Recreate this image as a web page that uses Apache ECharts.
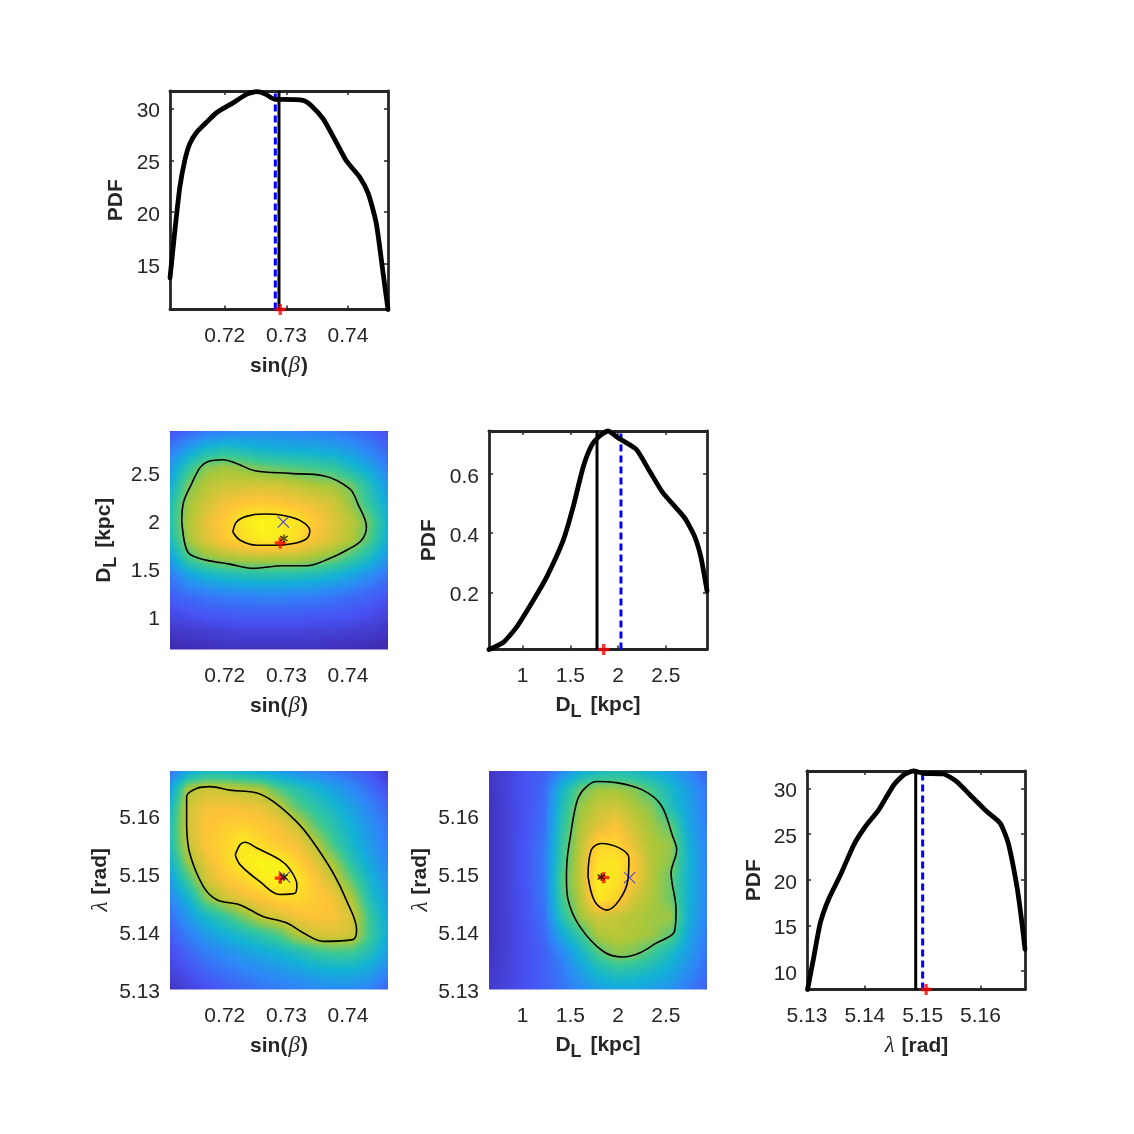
<!DOCTYPE html>
<html><head><meta charset="utf-8">
<style>html,body{margin:0;padding:0;background:#fff}#c{width:1134px;height:1134px}</style>
<script src="https://cdn.jsdelivr.net/npm/echarts@6/dist/echarts.min.js"></script>
</head><body><div id="c"></div>
<script>
// Axis ranges
const sinRange=[0.7111,0.7465], dlRange=[0.647,2.93], lamRange=[5.13,5.1677];
const pdfSinRange=[10.6,31.7], pdfDlRange=[0.0076,0.745], pdfLamRange=[8,31.9];
// Tick labels
const sinTicks=[0.72,0.73,0.74], dlTicks=[1,1.5,2,2.5], lamTicks=[5.13,5.14,5.15,5.16];
const pdfSinTicks=[15,20,25,30], pdfDlTicks=[0.2,0.4,0.6], pdfLamTicks=[10,15,20,25,30];
// Density grid nodes
const sinNodes=[.7111,.71405,.717,.71995,.7229,.72585,.7288,.73175,.7347,.73765,.7406,.74355,.7465];
const dlNodes=[.647,.837,1.028,1.218,1.408,1.598,1.789,1.979,2.169,2.359,2.55,2.74,2.93];
const lamNodes=[5.13,5.1331,5.1363,5.1394,5.1426,5.1457,5.1489,5.152,5.1551,5.1583,5.1614,5.1646,5.1677];
// Density, rows from top to bottom of each panel, columns left to right (0..1 of the colour scale)
const densSinDl=[
[.14,.19,.24,.27,.28,.29,.29,.28,.27,.25,.22,.18,.13],
[.24,.36,.46,.50,.47,.44,.42,.41,.40,.38,.33,.27,.19],
[.34,.54,.67,.70,.68,.64,.62,.60,.58,.55,.47,.38,.26],
[.42,.65,.74,.77,.78,.79,.78,.75,.72,.70,.64,.50,.34],
[.50,.70,.78,.84,.87,.88,.87,.85,.82,.78,.68,.55,.40],
[.52,.72,.82,.88,.95,.99,.97,.94,.87,.80,.74,.63,.44],
[.48,.70,.80,.87,.92,.96,.96,.92,.84,.79,.72,.60,.42],
[.36,.58,.67,.71,.73,.74,.73,.73,.70,.65,.57,.47,.32],
[.24,.36,.43,.47,.49,.50,.50,.49,.47,.43,.37,.30,.22],
[.18,.22,.25,.27,.28,.29,.29,.28,.27,.25,.22,.19,.15],
[.12,.14,.16,.17,.18,.18,.18,.18,.17,.16,.15,.13,.10],
[.06,.07,.08,.09,.10,.10,.10,.10,.09,.09,.08,.07,.05],
[.01,.02,.03,.04,.04,.04,.04,.04,.04,.03,.03,.02,.01]];
const densSinLam=[
[.22,.38,.46,.46,.42,.38,.34,.30,.27,.24,.19,.14,.06],
[.36,.72,.77,.76,.74,.72,.60,.52,.45,.37,.30,.22,.13],
[.46,.78,.84,.85,.84,.82,.76,.62,.54,.46,.37,.28,.19],
[.50,.78,.86,.88,.89,.87,.84,.77,.62,.52,.42,.32,.23],
[.50,.76,.86,.90,.96,.91,.87,.84,.74,.58,.46,.35,.25],
[.44,.70,.82,.90,.96,.99,.97,.90,.81,.70,.52,.39,.28],
[.36,.58,.78,.86,.90,.96,.99,.95,.86,.77,.62,.45,.32],
[.28,.44,.66,.77,.82,.86,.90,.91,.88,.84,.72,.50,.36],
[.22,.34,.47,.56,.66,.76,.80,.84,.86,.85,.79,.56,.40],
[.17,.26,.35,.42,.48,.54,.60,.72,.78,.80,.77,.57,.42],
[.13,.19,.26,.31,.36,.40,.44,.49,.55,.58,.57,.50,.36],
[.09,.14,.19,.23,.27,.30,.33,.36,.40,.42,.42,.38,.28],
[.05,.09,.13,.17,.20,.23,.25,.27,.29,.30,.30,.27,.19]];
const densDlLam=[
[.05,.09,.14,.18,.28,.40,.46,.48,.46,.42,.36,.28,.18],
[.05,.10,.14,.20,.45,.63,.70,.70,.67,.58,.46,.35,.24],
[.04,.09,.14,.21,.50,.69,.76,.78,.72,.67,.50,.37,.25],
[.04,.09,.14,.22,.53,.72,.80,.85,.77,.70,.62,.39,.26],
[.04,.09,.15,.24,.56,.74,.90,.90,.81,.72,.69,.42,.27],
[.04,.09,.15,.25,.57,.76,.93,.95,.86,.73,.67,.44,.28],
[.04,.09,.15,.25,.60,.76,.97,.94,.85,.73,.63,.43,.28],
[.04,.09,.14,.24,.58,.73,.95,.90,.78,.72,.64,.43,.28],
[.04,.09,.14,.22,.52,.70,.78,.76,.73,.70,.70,.42,.27],
[.04,.09,.13,.20,.40,.56,.72,.74,.72,.70,.62,.39,.25],
[.05,.09,.13,.18,.29,.44,.60,.68,.66,.58,.47,.35,.23],
[.06,.09,.13,.18,.25,.36,.46,.52,.50,.46,.40,.30,.21],
[.07,.10,.14,.18,.23,.30,.36,.39,.39,.36,.32,.25,.18]];
// Colour scale stops
const parula=[[62,38,168],[72,82,244],[46,135,247],[18,177,214],[55,200,151],[171,199,57],[254,195,56],[249,251,21]];
// Contours
const c2outX=[.7130,.7133,.7146,.7160,.7173,.7197,.7219,.7249,.7306,.7360,.7403,.7416,.7430,.7422,.7400,.7370,.7333,.7295,.7246,.7208,.7170,.7143,.7135,.7130];
const c2outY=[1.996,2.186,2.377,2.550,2.612,2.629,2.591,2.515,2.487,2.463,2.325,2.169,1.927,1.789,1.692,1.598,1.522,1.522,1.495,1.539,1.581,1.643,1.754,1.996];
const c2inX=[.7213,.7219,.7235,.7262,.7295,.7322,.7338,.7333,.7311,.7284,.7252,.7225,.7213];
const c2inY=[1.875,1.979,2.038,2.062,2.048,1.996,1.892,1.806,1.754,1.737,1.737,1.789,1.875];
const c4outX=[.7138,.7138,.7154,.7176,.7208,.7252,.7279,.7316,.7341,.7376,.7397,.7414,.7408,.7360,.7327,.7300,.7262,.7225,.7187,.7165,.7143,.7138];
const c4outY=[5.1581,5.1633,5.1647,5.1650,5.1644,5.1639,5.1624,5.1590,5.1558,5.1501,5.1455,5.1403,5.1386,5.1383,5.1398,5.1415,5.1426,5.1446,5.1455,5.1478,5.1535,5.1581];
const c4inX=[.7217,.7225,.7233,.7252,.7289,.7306,.7317,.7314,.7289,.7257,.7225,.7217];
const c4inY=[5.1532,5.1550,5.1554,5.1544,5.1524,5.1507,5.1481,5.1466,5.1464,5.1486,5.1515,5.1532];
const c5outX=[1.458,1.465,1.493,1.562,1.632,1.771,1.980,2.258,2.450,2.571,2.613,2.554,2.606,2.589,2.397,2.224,2.049,1.841,1.597,1.475,1.458];
const c5outY=[5.1492,5.1524,5.1558,5.1621,5.1644,5.1659,5.1657,5.1644,5.1618,5.1564,5.1541,5.1501,5.1438,5.1400,5.1380,5.1363,5.1356,5.1366,5.1409,5.1455,5.1492];
const c5inX=[1.684,1.719,1.823,2.015,2.112,2.102,2.015,1.882,1.754,1.684];
const c5inY=[5.1495,5.1541,5.1552,5.1544,5.1527,5.1489,5.1455,5.1437,5.1452,5.1495];
// PDF curves
const pdfSinX=[.7111,.7119,.7127,.7135,.7143,.7154,.7170,.7187,.7214,.7235,.7252,.7265,.7281,.7292,.7327,.7341,.7360,.7381,.7397,.7419,.7433,.7446,.7457,.7465];
const pdfSinY=[13.64,18.27,22.43,24.99,26.59,27.70,28.66,29.62,30.58,31.38,31.63,31.44,30.9,30.9,30.8,30.26,28.98,26.74,24.99,23.39,21.79,18.91,14.12,10.6];
const pdfDlX=[.647,.797,.936,1.110,1.249,1.423,1.527,1.632,1.719,1.806,1.893,1.997,2.189,2.328,2.467,2.693,2.798,2.867,2.93];
const pdfDlY=[.0076,.032,.083,.173,.251,.375,.487,.622,.695,.728,.745,.722,.683,.610,.537,.453,.391,.318,.206];
const pdfLamX=[5.1301,5.1312,5.1323,5.1337,5.1358,5.1381,5.1401,5.1424,5.1450,5.1467,5.1484,5.1501,5.1536,5.1559,5.1582,5.1611,5.1634,5.1648,5.1663,5.1671,5.1677];
const pdfLamY=[8.0,11.64,15.28,17.82,20.55,23.83,25.83,27.65,30.37,31.47,31.9,31.65,31.57,30.74,29.28,27.46,26.19,24.0,19.28,15.64,12.4];
// Reference values per parameter panel: [median line, dashed line, true marker]
const sinMarks=[.7288,.7282,.7290], dlMarks=[1.778,2.029,1.848], lamMarks=[5.1488,5.1500,5.1506];
// Points in the 2D panels
const pts2={red:[.7290,1.761],black:[.7296,1.806],blue:[.7295,1.979]};
const pts4={red:[.7290,5.1492],black:[.7296,5.1494],blue:[.7297,5.1494]};
const pts5={red:[1.848,5.1493],black:[1.823,5.1494],blue:[2.119,5.1493]};

const zip=(a,b)=>a.map((v,i)=>[v,b[i]]);
const FONT='"Liberation Sans",Arial,sans-serif', INK='#262626';
const PLUS='path://M3.5 0h3v3.5h3.5v3h-3.5v3.5h-3v-3.5h-3.5v-3h3.5z';
const CROSS='path://M0.6 0L5 4.4L9.4 0L10 0.6L5.6 5L10 9.4L9.4 10L5 5.6L0.6 10L0 9.4L4.4 5L0 0.6Z';
const STAR='path://M4.2 0h1.6v10h-1.6z M0 2.6L.8 1.2L10 7.4L9.2 8.8z M10 2.6L9.2 1.2L0 7.4L.8 8.8z';

function colour(v){
  v=Math.max(0,Math.min(1,v))*(parula.length-1);
  const i=Math.min(parula.length-2,Math.floor(v)),f=v-i,a=parula[i],b=parula[i+1];
  return 'rgb('+a.map((c,k)=>Math.round(c+(b[k]-c)*f)).join(',')+')';
}
const rich={
  b:{fontFamily:FONT,fontWeight:'bold',fontSize:21,color:INK},
  g:{fontFamily:'"Liberation Serif",serif',fontStyle:'italic',fontSize:23,color:INK,padding:[0,1,0,1]},
  s:{fontFamily:FONT,fontWeight:'bold',fontSize:18,color:INK,padding:[14,3,0,0]}
};
const NAMES={sin:'{b|sin(}{g|β}{b|)}',dl:'{b|D}{s|L}{b| [kpc]}',lam:'{g|λ}{b| [rad]}',pdf:'{b|PDF}'};

const grids=[],xAxes=[],yAxes=[],series=[];
function panel(col,row,xr,yr,xt,yt,xn,yn,xgap,ygap,boxed,topLine){
  const left=[170,489,807][col], top=[91,431,771][row], idx=grids.length;
  grids.push({left,top,width:218,height:218.5,containLabel:false});
  const line={show:boxed,onZero:false,lineStyle:{color:INK,width:2.8}};
  const tick=(vals)=>({show:boxed,inside:true,length:4,customValues:vals,lineStyle:{color:INK,width:1.5}});
  const xi=xAxes.length, yi=yAxes.length;
  xAxes.push({type:'value',gridIndex:idx,position:'bottom',min:xr[0],max:xr[1],axisLine:line,axisTick:tick(xt),splitLine:{show:false},
    axisLabel:{customValues:xt,margin:16,fontFamily:FONT,fontSize:21,color:INK},
    name:xn,nameLocation:'middle',nameGap:xgap,nameTextStyle:{rich}});
  yAxes.push({type:'value',gridIndex:idx,position:'left',min:yr[0],max:yr[1],axisLine:line,axisTick:tick(yt),splitLine:{show:false},
    axisLabel:{customValues:yt,margin:10,fontFamily:FONT,fontSize:21,color:INK,verticalAlign:'top',lineHeight:6},
    name:yn,nameLocation:'middle',nameGap:ygap,nameRotate:90,nameTextStyle:{rich}});
  if(boxed||topLine){
    xAxes.push({type:'value',gridIndex:idx,position:'top',min:xr[0],max:xr[1],
      axisLine:{show:true,onZero:false,lineStyle:{color:boxed?INK:'#3a3a6a',width:boxed?2.8:1}},axisTick:tick(xt),axisLabel:{show:false},splitLine:{show:false}});
  }
  if(boxed){
    yAxes.push({type:'value',gridIndex:idx,position:'right',min:yr[0],max:yr[1],axisLine:line,axisTick:tick(yt),axisLabel:{show:false},splitLine:{show:false}});
  }
  return {x:xi,y:yi};
}
function pdfPanel(col,row,xr,yr,xt,yt,xn,xgap,ygap,cx,cy,marks){
  const a=panel(col,row,xr,yr,xt,yt,xn,NAMES.pdf,xgap,ygap,true,false);
  const base={type:'line',xAxisIndex:a.x,yAxisIndex:a.y,showSymbol:false,symbol:'none',silent:true,clip:false};
  series.push({...base,data:[[marks[0],yr[0]],[marks[0],yr[1]]],lineStyle:{color:'#000',width:3},z:4});
  series.push({...base,data:[[marks[1],yr[0]],[marks[1],yr[1]]],lineStyle:{color:'#0000ff',width:3,type:[7,4]},z:4});
  series.push({...base,data:zip(cx,cy),smooth:0.2,lineStyle:{color:'#000',width:4.8,cap:'round',join:'round'},z:5});
  series.push({type:'scatter',xAxisIndex:a.x,yAxisIndex:a.y,data:[[marks[2],yr[0]]],symbol:PLUS,symbolSize:11,clip:false,silent:true,itemStyle:{color:'#ff0000'},z:6});
}
function densPanel(col,row,xr,yr,xt,yt,xn,yn,xgap,ygap,xNodes,yNodes,dens,out,inn,pts,topLine){
  const a=panel(col,row,xr,yr,xt,yt,xn,yn,xgap,ygap,false,topLine);
  const cells=[];
  for(let r=0;r<dens.length-1;r++)for(let c=0;c<xNodes.length-1;c++)cells.push([xNodes[c],yNodes[yNodes.length-1-r],c,r]);
  const STRIPS=8;
  series.push({type:'custom',xAxisIndex:a.x,yAxisIndex:a.y,data:cells,encode:{x:0,y:1},silent:true,z:1,clip:true,
    renderItem(params,api){
      const c=api.value(2),r=api.value(3);
      const p0=api.coord([xNodes[c],yNodes[yNodes.length-1-r]]);
      const p1=api.coord([xNodes[c+1],yNodes[yNodes.length-2-r]]);
      const x0=Math.round(p0[0]),x1=Math.round(p1[0]),h=p1[1]-p0[1],children=[];
      for(let s=0;s<STRIPS;s++){
        const t=(s+0.5)/STRIPS;
        const L=dens[r][c]*(1-t)+dens[r+1][c]*t, R=dens[r][c+1]*(1-t)+dens[r+1][c+1]*t;
        const stops=[0,.25,.5,.75,1].map(f=>({offset:f,color:colour(L+(R-L)*f)}));
        const y0=Math.round(p0[1]+h*s/STRIPS),y1=Math.round(p0[1]+h*(s+1)/STRIPS);
        if(y1>y0)children.push({type:'rect',shape:{x:x0,y:y0,width:x1-x0,height:y1-y0},
          style:{fill:new echarts.graphic.LinearGradient(0,0,1,0,stops)}});
      }
      return {type:'group',children};
    }});
  const base={type:'line',xAxisIndex:a.x,yAxisIndex:a.y,showSymbol:false,symbol:'none',silent:true,smooth:0.35,z:3,lineStyle:{color:'#000',width:1.6}};
  series.push({...base,data:out},{...base,data:inn});
  const sc=(d,sym,size,col2,z)=>({type:'scatter',xAxisIndex:a.x,yAxisIndex:a.y,data:[d],symbol:sym,symbolSize:size,silent:true,itemStyle:{color:col2},z});
  series.push(sc(pts.blue,CROSS,12,'#1a1aff',4),sc(pts.red,PLUS,11,'#ff0000',5),sc(pts.black,STAR,8,'#000',6));
}

pdfPanel(0,0,sinRange,pdfSinRange,sinTicks,pdfSinTicks,NAMES.sin,45,43,pdfSinX,pdfSinY,sinMarks);
densPanel(0,1,sinRange,dlRange,sinTicks,dlTicks,NAMES.sin,NAMES.dl,45,50,sinNodes,dlNodes,densSinDl,zip(c2outX,c2outY),zip(c2inX,c2inY),pts2,true);
pdfPanel(1,1,dlRange,pdfDlRange,dlTicks,pdfDlTicks,NAMES.dl,40,49,pdfDlX,pdfDlY,dlMarks);
densPanel(0,2,sinRange,lamRange,sinTicks,lamTicks,NAMES.sin,NAMES.lam,45,58,sinNodes,lamNodes,densSinLam,zip(c4outX,c4outY),zip(c4inX,c4inY),pts4,false);
densPanel(1,2,dlRange,lamRange,dlTicks,lamTicks,NAMES.dl,NAMES.lam,40,57,dlNodes,lamNodes,densDlLam,zip(c5outX,c5outY),zip(c5inX,c5inY),pts5,false);
pdfPanel(2,2,lamRange,pdfLamRange,lamTicks,pdfLamTicks,NAMES.lam,45,42,pdfLamX,pdfLamY,lamMarks);

const chart=echarts.init(document.getElementById('c'),null,{renderer:'canvas'});
chart.setOption({animation:false,backgroundColor:'#fff',grid:grids,xAxis:xAxes,yAxis:yAxes,series});
</script></body></html>
